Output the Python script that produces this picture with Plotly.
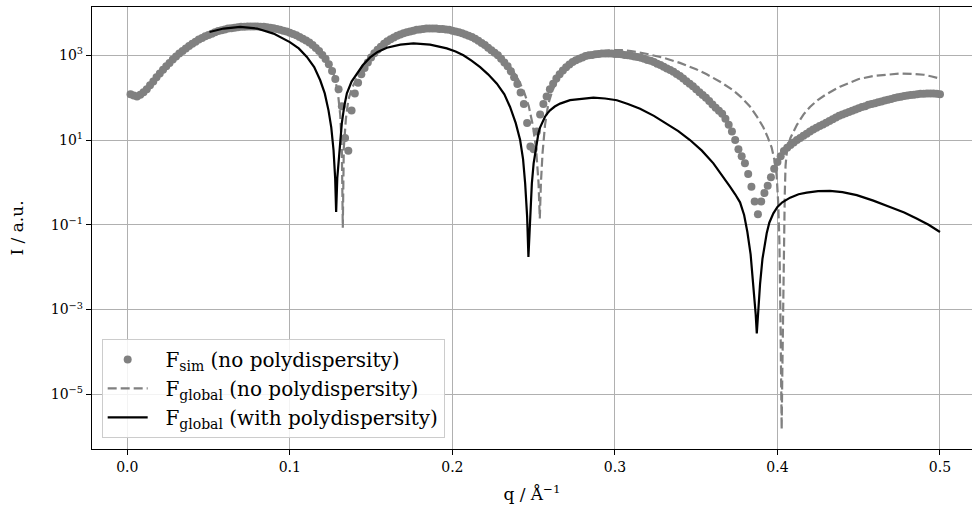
import plotly.graph_objects as go

# ---------------- data ----------------
q_sim = [
    0.002, 0.004, 0.006, 0.008, 0.010, 0.012, 0.014, 0.016, 0.018, 0.020,
    0.022, 0.024, 0.026, 0.028, 0.030, 0.032, 0.034, 0.036, 0.038, 0.040,
    0.042, 0.044, 0.046, 0.048, 0.050, 0.052, 0.054, 0.056, 0.058, 0.060,
    0.062, 0.064, 0.066, 0.068, 0.070, 0.072, 0.074, 0.076, 0.078, 0.080,
    0.082, 0.084, 0.086, 0.088, 0.090, 0.092, 0.094, 0.096, 0.098, 0.100,
    0.102, 0.104, 0.106, 0.108, 0.110, 0.112, 0.114, 0.116, 0.118, 0.120,
    0.122, 0.124, 0.126, 0.128, 0.130, 0.132, 0.134, 0.136, 0.138, 0.140,
    0.142, 0.144, 0.146, 0.148, 0.150, 0.152, 0.154, 0.156, 0.158, 0.160,
    0.162, 0.164, 0.166, 0.168, 0.170, 0.172, 0.174, 0.176, 0.178, 0.180,
    0.182, 0.184, 0.186, 0.188, 0.190, 0.192, 0.194, 0.196, 0.198, 0.200,
    0.202, 0.204, 0.206, 0.208, 0.210, 0.212, 0.214, 0.216, 0.218, 0.220,
    0.222, 0.224, 0.226, 0.228, 0.230, 0.232, 0.234, 0.236, 0.238, 0.240,
    0.242, 0.244, 0.246, 0.248, 0.250, 0.252, 0.254, 0.256, 0.258, 0.260,
    0.262, 0.264, 0.266, 0.268, 0.270, 0.272, 0.274, 0.276, 0.278, 0.280,
    0.282, 0.284, 0.286, 0.288, 0.290, 0.292, 0.294, 0.296, 0.298, 0.300,
    0.302, 0.304, 0.306, 0.308, 0.310, 0.312, 0.314, 0.316, 0.318, 0.320,
    0.322, 0.324, 0.326, 0.328, 0.330, 0.332, 0.334, 0.336, 0.338, 0.340,
    0.342, 0.344, 0.346, 0.348, 0.350, 0.352, 0.354, 0.356, 0.358, 0.360,
    0.362, 0.364, 0.366, 0.368, 0.370, 0.372, 0.374, 0.376, 0.378, 0.380,
    0.382, 0.384, 0.386, 0.388, 0.390, 0.392, 0.394, 0.396, 0.398, 0.400,
    0.402, 0.404, 0.406, 0.408, 0.410, 0.412, 0.414, 0.416, 0.418, 0.420,
    0.422, 0.424, 0.426, 0.428, 0.430, 0.432, 0.434, 0.436, 0.438, 0.440,
    0.442, 0.444, 0.446, 0.448, 0.450, 0.452, 0.454, 0.456, 0.458, 0.460,
    0.462, 0.464, 0.466, 0.468, 0.470, 0.472, 0.474, 0.476, 0.478, 0.480,
    0.482, 0.484, 0.486, 0.488, 0.490, 0.492, 0.494, 0.496, 0.498, 0.500,
]
I_sim = [
    120, 112, 107, 117, 135, 158, 195, 240, 302, 372,
    457, 550, 661, 794, 933, 1100, 1260, 1450, 1660, 1860,
    2090, 2340, 2570, 2820, 3020, 3240, 3470, 3720, 3890, 4070,
    4270, 4370, 4470, 4570, 4680, 4730, 4790, 4790, 4790, 4790,
    4730, 4680, 4570, 4470, 4370, 4170, 3980, 3800, 3630, 3390,
    3160, 2950, 2690, 2450, 2240, 2000, 1740, 1480, 1260, 1020,
    813, 617, 427, 275, 158, 63.1, 11.2, 5.62, 50.1, 126,
    224, 355, 501, 676, 891, 1120, 1350, 1580, 1860, 2140,
    2400, 2630, 2880, 3090, 3310, 3470, 3630, 3800, 3980, 4070,
    4170, 4270, 4270, 4270, 4270, 4170, 4170, 4070, 3980, 3800,
    3630, 3470, 3310, 3090, 2880, 2690, 2450, 2190, 1950, 1740,
    1510, 1320, 1150, 1000, 832, 676, 550, 417, 302, 209,
    132, 70.8, 25.1, 7.08, 6.03, 15.8, 39.8, 70.8, 107, 158,
    214, 282, 355, 437, 525, 603, 692, 759, 832, 891,
    955, 1000, 1020, 1050, 1070, 1100, 1100, 1100, 1100, 1070,
    1070, 1050, 1020, 1000, 977, 933, 912, 871, 832, 776,
    741, 692, 631, 589, 537, 490, 447, 407, 363, 324,
    282, 245, 214, 186, 158, 135, 115, 100, 83.2, 69.2,
    57.5, 49.0, 41.7, 31.6, 22.9, 15.8, 10.0, 6.03, 4.17, 2.82,
    1.58, 0.794, 0.355, 0.178, 0.355, 0.562, 0.832, 1.32, 2.09, 3.02,
    4.17, 5.50, 6.61, 7.59, 8.71, 10.0, 11.2, 12.6, 14.1, 15.8,
    17.8, 19.5, 21.4, 23.4, 25.7, 28.2, 30.9, 33.9, 37.2, 39.8,
    42.7, 45.7, 49.0, 52.5, 56.2, 60.3, 63.1, 67.6, 70.8, 74.1,
    77.6, 81.3, 85.1, 89.1, 93.3, 97.7, 102, 105, 110, 112,
    115, 117, 120, 123, 123, 126, 126, 126, 123, 120,
]

q_glob = [
    0.050, 0.060, 0.070, 0.080, 0.090, 0.100, 0.108, 0.115, 0.120, 0.124,
    0.127, 0.1295, 0.131, 0.132, 0.1326, 0.1332, 0.1345, 0.136, 0.138, 0.141,
    0.145, 0.150, 0.155, 0.160, 0.165, 0.170, 0.180, 0.190, 0.200, 0.210,
    0.220, 0.225, 0.230, 0.235, 0.2397, 0.244, 0.247, 0.2495, 0.2515, 0.253,
    0.2538, 0.2545, 0.2555, 0.257, 0.259, 0.261, 0.263, 0.266, 0.270, 0.275,
    0.280, 0.285, 0.290, 0.295, 0.300, 0.305, 0.310, 0.315, 0.320, 0.330,
    0.340, 0.350, 0.3565, 0.365, 0.3729, 0.378, 0.3831, 0.3873, 0.3913, 0.394,
    0.3964, 0.3985, 0.3995, 0.4005, 0.4012, 0.4018, 0.4023, 0.4026, 0.4030, 0.4034,
    0.4040, 0.4045, 0.4050, 0.4060, 0.4080, 0.4100, 0.4120, 0.4160, 0.4200, 0.4250,
    0.4300, 0.4385, 0.4450, 0.4500, 0.4590, 0.4680, 0.4760, 0.4840, 0.4900, 0.4950,
    0.5000,
]
I_glob = [
    3020, 4070, 4680, 4790, 4370, 3470, 2510, 1620, 1050, 631,
    355, 141, 39.8, 6.31, 0.0851, 6.31, 31.6, 89.1, 158, 282,
    501, 933, 1480, 2140, 2750, 3310, 4070, 4270, 3800, 2880,
    1780, 1290, 891, 562, 309, 141, 63.1, 22.4, 6.31, 1.0,
    0.141, 1.0, 5.01, 22.4, 70.8, 126, 200, 316, 501, 724,
    933, 1100, 1200, 1290, 1320, 1320, 1260, 1170, 1070, 871,
    661, 468, 355, 234, 148, 100, 61.7, 36.3, 20.0, 11.7,
    6.76, 2.95, 1.48, 0.316, 0.0398, 0.001, 3.16e-5, 1.48e-6, 3.16e-5, 0.001,
    0.0316, 0.501, 2.51, 6.31, 11.2, 16.6, 22.9, 39.8, 60.3, 89.1,
    120, 182, 234, 275, 324, 355, 372, 363, 347, 316,
    282,
]

q_poly = [
    0.0506, 0.0593, 0.0695, 0.0798, 0.0900, 0.1000, 0.1055, 0.1105, 0.1150, 0.1187,
    0.1215, 0.1238, 0.1255, 0.1269, 0.1279, 0.1285, 0.1292, 0.1306, 0.1320, 0.1335,
    0.1351, 0.1380, 0.1413, 0.1450, 0.1494, 0.1540, 0.1597, 0.1680, 0.1761, 0.1863,
    0.1966, 0.2020, 0.2068, 0.2120, 0.2171, 0.2220, 0.2274, 0.2320, 0.2355, 0.2390,
    0.2417, 0.2435, 0.2448, 0.2460, 0.2468, 0.2478, 0.2489, 0.2500, 0.2520, 0.2530,
    0.2540, 0.2555, 0.2570, 0.2585, 0.2601, 0.2630, 0.2663, 0.2724, 0.2800, 0.2868,
    0.2940, 0.3012, 0.3080, 0.3155, 0.3240, 0.3319, 0.3390, 0.3462, 0.3535, 0.3606,
    0.3660, 0.3708, 0.3740, 0.3770, 0.3795, 0.3815, 0.3835, 0.3852, 0.3866, 0.3873,
    0.3880, 0.3893, 0.3908, 0.3934, 0.3950, 0.3975, 0.4000, 0.4030, 0.4078, 0.4130,
    0.4180, 0.4250, 0.4323, 0.4400, 0.4488, 0.4590, 0.4692, 0.4780, 0.4856, 0.4930,
    0.5000,
]
I_poly = [
    3550, 4270, 4680, 4270, 3240, 2040, 1450, 912, 525, 257,
    126, 50.1, 20.0, 5.75, 1.26, 0.200, 1.26, 5.75, 25.1, 63.1,
    126, 240, 372, 589, 891, 1200, 1510, 1780, 1910, 1780,
    1450, 1230, 1000, 741, 525, 355, 214, 120, 60.3, 25.1,
    10.0, 3.55, 0.933, 0.158, 0.0174, 0.158, 0.933, 2.82, 10.0, 14.8,
    20.0, 28.2, 35.5, 42.7, 50.1, 61.7, 72.4, 87.1, 95.5, 100,
    95.5, 87.1, 70.8, 55.0, 37.2, 24.5, 16.2, 10.0, 5.62, 2.82,
    1.48, 0.794, 0.525, 0.339, 0.170, 0.0676, 0.0200, 0.00398, 0.000794, 0.000275,
    0.000794, 0.00398, 0.0158, 0.0631, 0.112, 0.186, 0.263, 0.339, 0.437, 0.525,
    0.575, 0.624, 0.631, 0.589, 0.501, 0.372, 0.263, 0.195, 0.141, 0.100,
    0.0676,
]

x_ticks = [0.0, 0.1, 0.2, 0.3, 0.4, 0.5]
x_ticklabels = ["0.0", "0.1", "0.2", "0.3", "0.4", "0.5"]
y_ticks = [1e3, 1e1, 1e-1, 1e-3, 1e-5]
y_ticklabels = ["10<sup>3</sup>", "10<sup>1</sup>", "10<sup>\u22121</sup>",
                "10<sup>\u22123</sup>", "10<sup>\u22125</sup>"]

names = ["F<sub>sim</sub> (no polydispersity)",
         "F<sub>global</sub> (no polydispersity)",
         "F<sub>global</sub> (with polydispersity)"]

FONT = "DejaVu Serif"
GRID = "#b0b0b0"
PAD = "\u00a0\u00a0"

fig = go.Figure()
fig.add_trace(go.Scatter(
    x=q_sim, y=I_sim, mode="markers", name=PAD + names[0],
    marker=dict(color="#808080", size=8, line=dict(width=0)),
))
fig.add_trace(go.Scatter(
    x=q_glob, y=I_glob, mode="lines", name=PAD + names[1],
    line=dict(color="#808080", width=2.2, dash="9px,4px"),
))
fig.add_trace(go.Scatter(
    x=q_poly, y=I_poly, mode="lines", name=PAD + names[2],
    line=dict(color="black", width=2.2),
))

fig.update_layout(
    width=972, height=511,
    margin=dict(l=92, r=0, t=7, b=62),
    paper_bgcolor="white", plot_bgcolor="white",
    font=dict(family=FONT, size=14, color="black"),
    showlegend=True,
    legend=dict(
        x=0.011, y=0.025, xanchor="left", yanchor="bottom",
        bgcolor="rgba(255,255,255,0.85)", bordercolor="#cccccc", borderwidth=1,
        font=dict(family=FONT, size=20, color="black"),
        itemwidth=40, tracegroupgap=0,
    ),
    xaxis=dict(
        range=[-0.0217, 0.5197],
        tickvals=x_ticks, ticktext=x_ticklabels,
        showgrid=True, gridcolor=GRID, gridwidth=1,
        zeroline=False,
        showline=True, linecolor="black", linewidth=1.3, mirror=True,
        ticks="outside", ticklen=5, tickwidth=1.1, tickcolor="black",
        tickfont=dict(family=FONT, size=14, color="black"),
        title=dict(text="q / \u00c5<sup>\u22121</sup>",
                   font=dict(family=FONT, size=17, color="black"), standoff=14),
    ),
    yaxis=dict(
        type="log", range=[-6.29, 4.139],
        tickvals=y_ticks, ticktext=y_ticklabels,
        showgrid=True, gridcolor=GRID, gridwidth=1,
        zeroline=False,
        showline=True, linecolor="black", linewidth=1.3, mirror=False,
        ticks="outside", ticklen=5, tickwidth=1.1, tickcolor="black",
        tickfont=dict(family=FONT, size=14, color="black"),
        title=dict(text="I / a.u.",
                   font=dict(family=FONT, size=17, color="black"), standoff=22),
    ),
)

fig.write_html("out.html")
